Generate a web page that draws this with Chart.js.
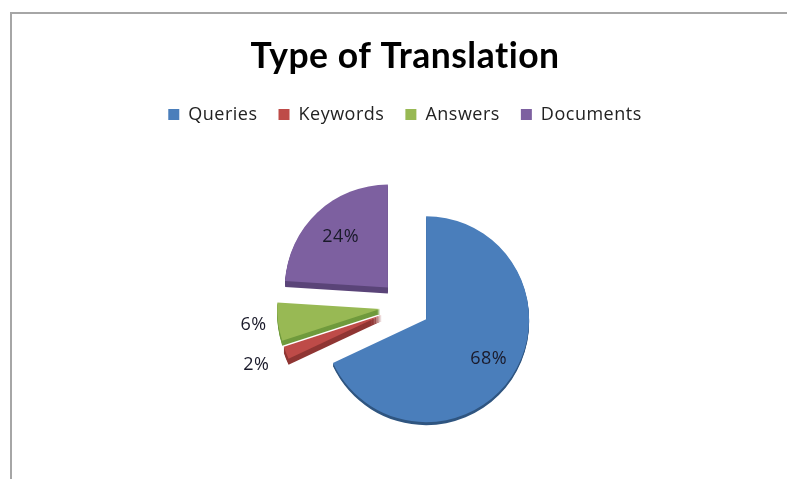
<!DOCTYPE html>
<html><head><meta charset="utf-8">
<script src="https://cdn.jsdelivr.net/npm/chart.js@4"></script>
<style>
html,body{margin:0;padding:0;background:#fff;overflow:hidden}
#wrap{position:relative;width:787px;height:479px;overflow:hidden}
#frame{position:absolute;left:10px;top:12px;right:-4px;bottom:-4px;border-style:solid;border-color:#a6a6a6;border-width:2px 0 0 2px}
canvas{position:absolute;left:0;top:0}
</style></head><body>
<div id="wrap"><div id="frame"></div><canvas id="c" width="787" height="479"></canvas></div>
<script>
const categories = ['Queries','Keywords','Answers','Documents'];
const values = [68,2,6,24];
const colors = ['#4a7ebb','#be4b48','#98b954','#7d60a0'];
const sideColors = ['#2f5580','#8f3533','#6f9a3c','#5a4478'];
const labelDistance = [0.72,1.31,1.24,0.67];
const sideDepth = [3,6,5,6];

function arcGeom(a){
  const p = a.getProps(['x','y','startAngle','endAngle','outerRadius']);
  const mid = (p.startAngle+p.endAngle)/2, off = a.options.offset/4;
  return {x:p.x+Math.cos(mid)*off,y:p.y+Math.sin(mid)*off,r:p.outerRadius,s:p.startAngle,e:p.endAngle,mid};
}
function wedge(ctx,g,dy,fill){
  ctx.fillStyle = fill;
  ctx.beginPath();
  ctx.moveTo(g.x,g.y+dy);
  ctx.arc(g.x,g.y+dy,g.r,g.s,g.e);
  ctx.closePath();
  ctx.fill();
}
const pie3d = {
  id:'pie3d',
  beforeUpdate(chart){ chart.ctx.letterSpacing='0.5px'; },
  beforeDatasetDraw(chart){
    const ctx = chart.ctx, arcs = chart.getDatasetMeta(0).data;
    ctx.save();
    arcs.forEach((a,i)=>{
      const g = arcGeom(a);
      for(let d=1;d<=sideDepth[i];d++) wedge(ctx,g,d,sideColors[i]);
    });
    arcs.forEach((a,i)=>wedge(ctx,arcGeom(a),0,colors[i]));
    ctx.restore();
    return false;
  },
  afterDatasetsDraw(chart){
    const ctx = chart.ctx, arcs = chart.getDatasetMeta(0).data;
    const total = values.reduce((s,v)=>s+v,0);
    ctx.save();
    ctx.font = '18px "Open Sans"';
    ctx.letterSpacing = '0.5px';
    ctx.fillStyle = '#1a1a2a';
    ctx.textAlign='center'; ctx.textBaseline='middle';
    arcs.forEach((a,i)=>{
      const g = arcGeom(a);
      const r = g.r*labelDistance[i];
      ctx.fillText(Math.round(values[i]/total*100)+'%',g.x+Math.cos(g.mid)*r,g.y+Math.sin(g.mid)*r);
    });
    ctx.restore();
  }
};

new Chart(document.getElementById('c'),{
  type:'pie',
  plugins:[pie3d],
  data:{labels:categories,datasets:[{data:values,backgroundColor:colors,borderWidth:0,offset:100,hoverOffset:100,radius:103}]},
  options:{
    responsive:false,animation:false,
    layout:{padding:{left:23,right:0,top:35,bottom:1}},
    plugins:{
      tooltip:{enabled:false},
      title:{display:true,text:'Type of Translation',color:'#000',font:{family:'Lato',size:35.5,weight:'bold'},padding:{top:0,bottom:7}},
      legend:{display:true,position:'top',labels:{boxWidth:11,boxHeight:11,padding:21,color:'#222',font:{family:'Open Sans',size:18}}}
    }
  }
});
</script></body></html>
